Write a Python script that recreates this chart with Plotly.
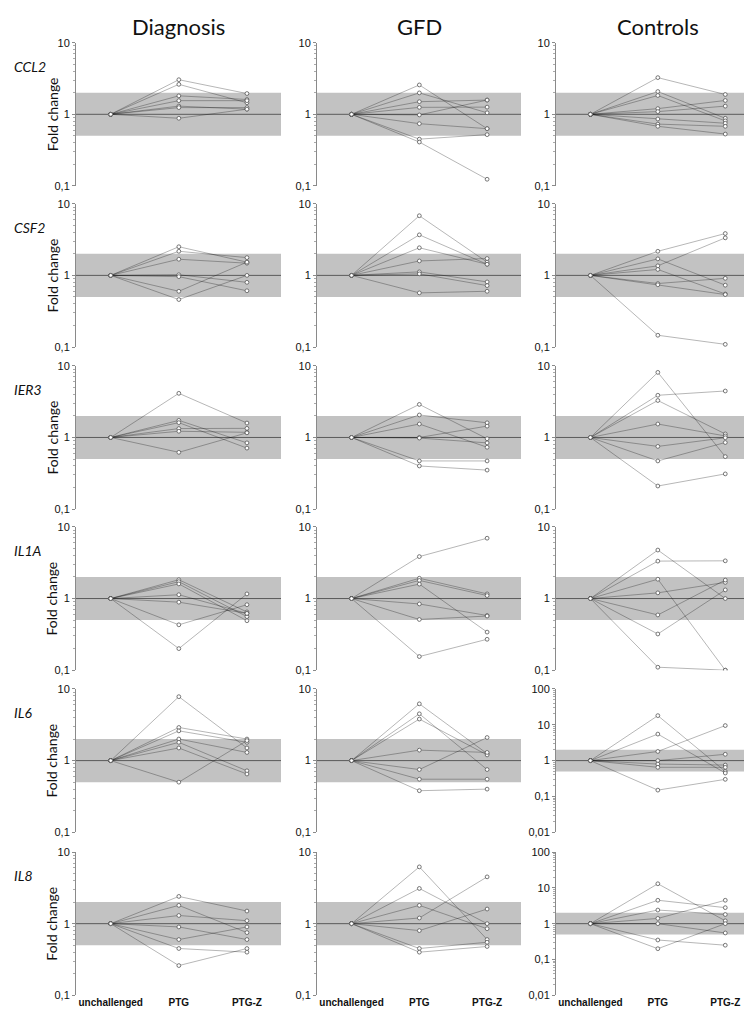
import plotly.graph_objects as go

# ---------------- data ----------------
CATEGORIES = ["unchallenged", "PTG", "PTG-Z"]
GROUPS = ["Diagnosis", "GFD", "Controls"]
GENES = ["CCL2", "CSF2", "IER3", "IL1A", "IL6", "IL8"]
BASELINE = 1.0
BAND_LOW, BAND_HIGH = 0.5, 2.0

# fold change at PTG / PTG-Z per subject (unchallenged = 1)
CCL2_DIAGNOSIS_PTG  = [3.04, 2.62, 1.81, 1.55, 1.30, 1.24, 0.88]
CCL2_DIAGNOSIS_PTGZ = [1.95, 1.45, 1.61, 1.55, 1.18, 1.24, 1.18]
CCL2_GFD_PTG  = [2.57, 1.99, 1.50, 1.25, 0.98, 0.74, 0.45, 0.41]
CCL2_GFD_PTGZ = [0.63, 1.05, 1.58, 1.26, 1.58, 0.63, 0.52, 0.124]
CCL2_CONTROLS_PTG  = [3.25, 2.08, 1.83, 1.20, 1.09, 0.86, 0.73, 0.68]
CCL2_CONTROLS_PTGZ = [1.89, 0.88, 0.81, 1.56, 1.30, 0.75, 0.68, 0.53]

CSF2_DIAGNOSIS_PTG  = [2.51, 2.17, 1.68, 1.02, 0.96, 0.60, 0.46]
CSF2_DIAGNOSIS_PTGZ = [1.53, 1.77, 1.48, 0.80, 0.61, 1.53, 1.00]
CSF2_GFD_PTG  = [6.8, 3.68, 2.43, 1.59, 1.12, 1.05, 0.57]
CSF2_GFD_PTGZ = [1.53, 1.43, 1.43, 1.72, 0.81, 0.72, 0.60]
CSF2_CONTROLS_PTG  = [2.17, 1.36, 1.70, 1.21, 0.77, 0.74, 0.146]
CSF2_CONTROLS_PTGZ = [3.84, 3.34, 0.73, 0.55, 0.91, 0.54, 0.109]

IER3_DIAGNOSIS_PTG  = [4.13, 1.73, 1.61, 1.33, 1.22, 0.62]
IER3_DIAGNOSIS_PTGZ = [1.59, 0.84, 0.71, 1.34, 1.18, 1.16]
IER3_GFD_PTG  = [2.89, 2.06, 1.54, 1.00, 0.98, 0.47, 0.40]
IER3_GFD_PTGZ = [0.96, 1.60, 0.73, 1.44, 0.84, 0.47, 0.35]
IER3_CONTROLS_PTG  = [8.1, 3.88, 3.28, 1.54, 0.75, 0.47, 0.21]
IER3_CONTROLS_PTGZ = [0.54, 4.45, 1.12, 1.05, 0.99, 0.85, 0.31]

IL1A_DIAGNOSIS_PTG  = [1.83, 1.72, 1.60, 1.13, 0.89, 0.43, 0.20]
IL1A_DIAGNOSIS_PTGZ = [0.65, 0.56, 0.49, 0.62, 0.62, 0.82, 1.16]
IL1A_GFD_PTG  = [3.85, 1.92, 1.79, 1.59, 0.84, 0.51, 0.155]
IL1A_GFD_PTGZ = [6.95, 1.16, 1.10, 0.34, 0.58, 0.57, 0.27]
IL1A_CONTROLS_PTG  = [4.75, 3.33, 1.86, 1.20, 0.59, 0.32, 0.11]
IL1A_CONTROLS_PTGZ = [1.00, 3.36, 0.10, 1.68, 1.81, 1.32, 0.10]

IL6_DIAGNOSIS_PTG  = [7.8, 2.9, 2.6, 2.0, 1.8, 1.5, 0.5]
IL6_DIAGNOSIS_PTGZ = [1.5, 2.0, 1.8, 1.3, 0.72, 0.65, 1.9]
IL6_GFD_PTG  = [6.2, 4.5, 3.8, 1.4, 0.75, 0.55, 0.38]
IL6_GFD_PTGZ = [1.25, 0.75, 1.2, 1.3, 2.1, 0.55, 0.40]
IL6_CONTROLS_PTG  = [18.0, 5.5, 1.8, 1.0, 0.8, 0.65, 0.15]
IL6_CONTROLS_PTGZ = [0.5, 0.45, 9.5, 1.5, 0.75, 0.65, 0.3]

IL8_DIAGNOSIS_PTG  = [2.4, 1.8, 1.3, 0.9, 0.6, 0.45, 0.26]
IL8_DIAGNOSIS_PTGZ = [1.5, 0.75, 1.1, 0.6, 0.9, 0.4, 0.45]
IL8_GFD_PTG  = [6.2, 3.1, 1.8, 1.2, 0.8, 0.45, 0.4]
IL8_GFD_PTGZ = [0.6, 1.0, 0.85, 4.5, 1.6, 0.55, 0.48]
IL8_CONTROLS_PTG  = [13.0, 4.5, 2.4, 1.4, 1.0, 0.35, 0.2]
IL8_CONTROLS_PTGZ = [1.2, 2.8, 1.8, 4.5, 0.55, 0.25, 1.0]

# tick values for panels
NARROW_TICKS = [0.1, 1, 10]
WIDE_TICKS = [0.01, 0.1, 1, 10, 100]
WIDE_PANELS = {("IL6", "Controls"), ("IL8", "Controls")}

g = globals()
PANELS = {}
for gene in GENES:
    for grp in GROUPS:
        PANELS[(gene, grp)] = (g[f"{gene}_{grp.upper()}_PTG"], g[f"{gene}_{grp.upper()}_PTGZ"])

# ---------------- layout geometry ----------------
W, H = 752, 1019
COL_PX = [(68, 273), (309, 513), (548, 751)]
ROW_TOP = [29, 192, 356, 519, 683, 848]
ROW_H = 145
X_RANGE = [-0.51, 2.5]


def fmt(v):
    s = f"{v:g}"
    return s.replace(".", ",")


fig = go.Figure()
layout = dict(
    width=W, height=H, margin=dict(l=0, r=0, t=0, b=0),
    paper_bgcolor="white", plot_bgcolor="white", showlegend=False,
    font=dict(family="Liberation Sans, Arial", size=11, color="#222"),
)
shapes, annotations = [], []

LINE_COLOR = "rgba(0,0,0,0.36)"
idx = 0
for r, gene in enumerate(GENES):
    for c, grp in enumerate(GROUPS):
        idx += 1
        xa = "x" if idx == 1 else f"x{idx}"
        ya = "y" if idx == 1 else f"y{idx}"
        xkey = "xaxis" if idx == 1 else f"xaxis{idx}"
        ykey = "yaxis" if idx == 1 else f"yaxis{idx}"
        x0, x1 = COL_PX[c]
        top = ROW_TOP[r]
        wide = (gene, grp) in WIDE_PANELS
        ticks = WIDE_TICKS if wide else NARROW_TICKS
        lo, hi = (-2, 2) if wide else (-1, 1)
        minor_vals = [m * 10 ** e for e in range(lo, hi) for m in range(2, 10)]
        bottom = r == len(GENES) - 1
        layout[xkey] = dict(
            domain=[x0 / W, x1 / W], anchor=ya, range=X_RANGE,
            showgrid=False, zeroline=False, showline=False, ticks="",
            tickmode="array", tickvals=[0, 1, 2],
            ticktext=[f"<b>{t}</b>" for t in CATEGORIES],
            showticklabels=bottom, tickfont=dict(size=10, color="#111",
                                                 family="Liberation Sans, Arial"),
            fixedrange=True,
        )
        layout[ykey] = dict(
            domain=[1 - (top + ROW_H) / H, 1 - top / H], anchor=xa,
            type="log", range=[lo, hi], showgrid=False, zeroline=False,
            showline=True, linecolor="#8a8a8a", linewidth=1,
            ticks="outside", ticklen=3, tickcolor="#8a8a8a", tickwidth=1,
            tickmode="array", tickvals=ticks, ticktext=[fmt(t) for t in ticks],
            tickfont=dict(size=11, color="#111"),
            minor=dict(ticks="outside", ticklen=2, tickcolor="#aaaaaa",
                       tickmode="array", tickvals=minor_vals),
            fixedrange=True,
        )
        # shaded band and baseline
        shapes.append(dict(type="rect", xref=f"{xa} domain", yref=ya,
                           x0=0, x1=1, y0=BAND_LOW, y1=BAND_HIGH,
                           fillcolor="#c2c2c2", line=dict(width=0), layer="below"))
        shapes.append(dict(type="line", xref=f"{xa} domain", yref=ya,
                           x0=0, x1=1, y0=BASELINE, y1=BASELINE,
                           line=dict(color="#5a5a5a", width=1), layer="below"))
        ptg, ptgz = PANELS[(gene, grp)]
        for a, b in zip(ptg, ptgz):
            fig.add_trace(go.Scatter(
                x=[0, 1, 2], y=[BASELINE, a, b], xaxis=xa, yaxis=ya,
                mode="lines+markers", hoverinfo="skip",
                line=dict(color=LINE_COLOR, width=0.8),
                marker=dict(symbol="circle", size=3.8, color="white",
                            line=dict(color="#555555", width=0.8)),
            ))
        if c == 0:
            annotations.append(dict(
                text=f"<i>{gene}</i>", xref="paper", yref=f"{ya} domain",
                x=4 / W, y=1 - 24 / ROW_H, xanchor="left", yanchor="middle",
                showarrow=False, font=dict(family="Lato, Open Sans", size=14, color="#111")))
            annotations.append(dict(
                text="Fold change", xref="paper", yref=f"{ya} domain",
                x=44 / W, y=0.5, xanchor="center", yanchor="middle",
                textangle=-90, showarrow=False,
                font=dict(family="Lato, Open Sans", size=14, color="#111")))
        if r == 0:
            annotations.append(dict(
                text=grp, xref=xa, yref="paper", x=1, y=1 - 13 / H,
                xanchor="center", yanchor="middle", showarrow=False,
                font=dict(family="Lato, Open Sans", size=22, color="#111")))

layout["shapes"] = shapes
layout["annotations"] = annotations
fig.update_layout(**layout)
fig.write_html("out.html")
